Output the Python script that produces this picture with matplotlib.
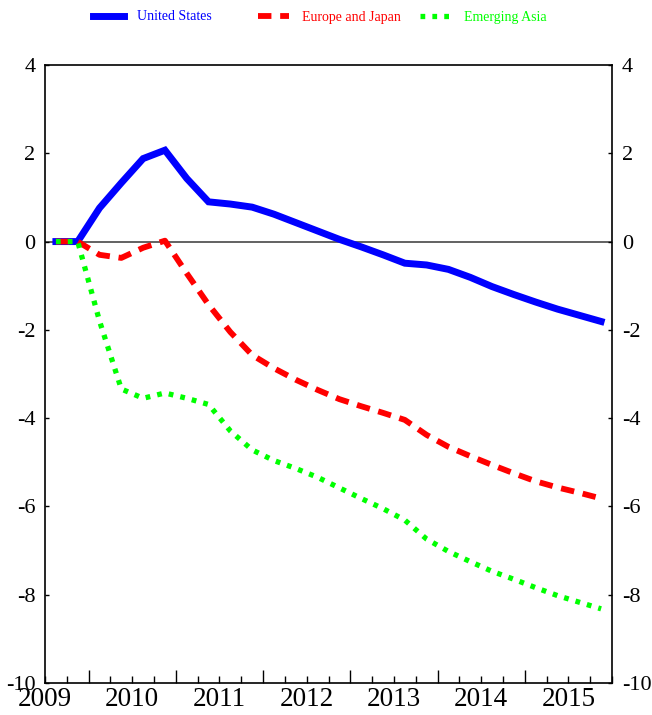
import numpy as np
import matplotlib
matplotlib.use("Agg")
from matplotlib import pyplot as plt
from matplotlib.ticker import FixedLocator, FuncFormatter

plt.rcParams['font.family'] = ['Liberation Serif', 'DejaVu Serif']
plt.rcParams['axes.unicode_minus'] = False

# quarterly series, 2009Q3 .. 2015Q4
start_year = 2009.5
n_quarters = 26
united_states = [0, 0, 0.76, 1.33, 1.88, 2.07, 1.43, 0.90, 0.85, 0.78, 0.62, 0.43, 0.24,
                 0.05, -0.12, -0.30, -0.49, -0.53, -0.63, -0.81, -1.02, -1.20, -1.37,
                 -1.53, -1.67, -1.81]
europe_japan = [0, 0, -0.30, -0.37, -0.14, 0.02, -0.72, -1.43, -2.05, -2.57, -2.87, -3.13,
                -3.36, -3.57, -3.73, -3.88, -4.04, -4.38, -4.65, -4.86, -5.06, -5.25,
                -5.43, -5.57, -5.69, -5.82]
emerging_asia = [0, 0, -1.80, -3.34, -3.55, -3.43, -3.55, -3.69, -4.29, -4.72, -4.96, -5.14,
                 -5.34, -5.58, -5.82, -6.05, -6.31, -6.74, -7.02, -7.25, -7.47, -7.65,
                 -7.84, -8.02, -8.17, -8.32]
series_names = ['United States', 'Europe and Japan', 'Emerging Asia']
years = list(range(2009, 2016))

x = start_year + 0.125 + 0.25 * np.arange(n_quarters)

fig = plt.figure(figsize=(6.52, 7.15), dpi=100)
ax = fig.add_axes([45/652, 1 - 683/715, (612 - 45)/652, (683 - 65)/715])

ax.axhline(0, color='#555555', lw=1.3, zorder=1)
l1, = ax.plot(x, united_states, color='#0000ff', lw=5, solid_joinstyle='miter', zorder=2)
l2, = ax.plot(x, europe_japan, color='#ff0000', lw=4.2, ls=(0, (2.3, 1.5)),
              dash_capstyle='butt', zorder=3)
l3, = ax.plot(x, emerging_asia, color='#00ff00', lw=3.8, ls=(0, (0.9, 1.35)),
              dash_capstyle='butt', zorder=4)

ax.set_xlim(start_year, 2016)
ax.set_ylim(-10, 4)
ax.set_yticks(range(-10, 5, 2))

ax.xaxis.set_major_locator(FixedLocator(years[1:]))
ax.xaxis.set_major_formatter(FuncFormatter(lambda v, p: ''))
quarters = np.arange(start_year, 2016.01, 0.25)
ax.xaxis.set_minor_locator(FixedLocator(quarters))
ax.xaxis.set_minor_formatter(FuncFormatter(
    lambda v, p: str(int(v)) if abs(v % 1 - 0.5) < 1e-6 else ''))

ax.tick_params(axis='x', which='major', direction='in', length=9.5, width=1,
               top=False, bottom=True)
ax.tick_params(axis='x', which='minor', direction='in', length=5, width=1,
               labelsize=19.5, pad=3, top=False, bottom=True)
ax.tick_params(axis='y', direction='in', length=3, width=1, labelsize=16, pad=7,
               left=True, right=True, labelleft=True, labelright=True)

for s in ax.spines.values():
    s.set_linewidth(1.2)

# legend entries spread along the top
for line, name, xpos in zip([l1, l2, l3], series_names, [93, 258, 420]):
    fig.legend(handles=[line], labels=[name], loc='center left',
               bbox_to_anchor=(xpos/652, 1 - 17/715), frameon=False, fontsize=10,
               handlelength=2.2, handletextpad=1.0, borderpad=0, borderaxespad=0,
               labelcolor='linecolor')

fig.savefig('out.png', dpi=100)
